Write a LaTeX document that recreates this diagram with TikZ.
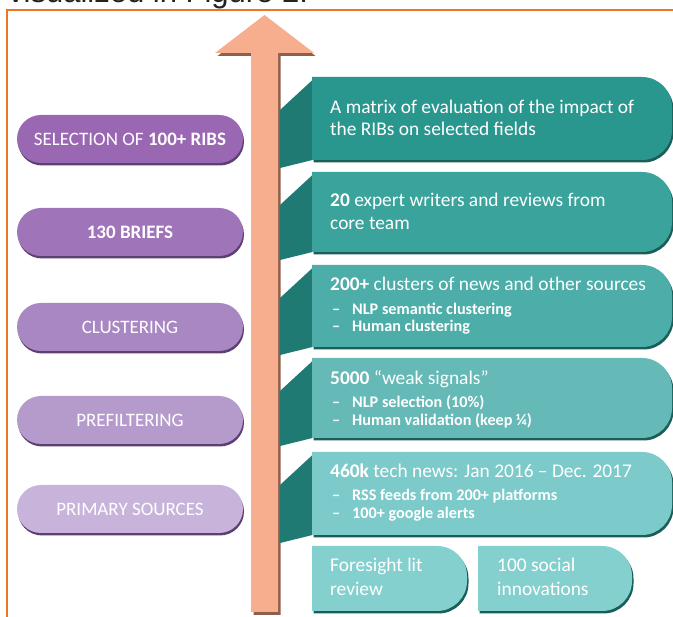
\documentclass[tikz,border=0pt]{standalone}
\usepackage{fontspec}
\setmainfont{Carlito}
\newfontfamily\topfont{Liberation Sans}
\usetikzlibrary{shadows}
\definecolor{frameor}{HTML}{EE7522}
\definecolor{arrowc}{HTML}{F7AE8E}
\definecolor{arrowsh}{HTML}{8E5F4A}
\definecolor{pA}{HTML}{9A68B2}
\definecolor{pB}{HTML}{A074B8}
\definecolor{pC}{HTML}{A987C2}
\definecolor{pD}{HTML}{B59BCC}
\definecolor{pE}{HTML}{C8B4DB}
\definecolor{psh}{HTML}{5E3F72}
\definecolor{tA}{HTML}{2A978F}
\definecolor{tB}{HTML}{3AA39C}
\definecolor{tC}{HTML}{4DADA8}
\definecolor{tD}{HTML}{65BAB7}
\definecolor{tE}{HTML}{7DCACA}
\definecolor{tF}{HTML}{84D0CF}
\definecolor{foldc}{HTML}{1F7A73}
\definecolor{tsh}{HTML}{1A5E58}
\definecolor{toptext}{HTML}{222222}
\newcommand\tealshape[5]{% left, top, right, bottom, colour
  \fill[tsh] (#1+1.5,#2+2.5) [rounded corners=30pt] -- (#3+1.5,#2+2.5) -- (#3+1.5,#4+2.5) [sharp corners] -- (#1+1.5,#4+2.5) -- cycle;
  \fill[#5] (#1,#2) [rounded corners=30pt] -- (#3,#2) -- (#3,#4) [sharp corners] -- (#1,#4) -- cycle;}
\newcommand\tealfold[2]{% top, bottom
  \fill[foldc] (280,#1+33) -- (312.5,#1+3) -- (312.5,#2) -- (280,#2+8) -- cycle;}
\tikzset{
  pill/.style={rectangle, rounded corners=24pt, minimum width=226pt, minimum height=48pt,
    inner sep=0pt, text=white, font=\fontsize{19}{20}\selectfont,
    drop shadow={shadow xshift=1pt, shadow yshift=-2.5pt, fill=psh, opacity=1}},
  head/.style={anchor=base west, inner sep=0pt, text=white, font=\fontsize{19.4}{21}\selectfont},
  bul/.style={anchor=base west, inner sep=0pt, text=white, font=\fontsize{16.2}{17}\selectfont\bfseries},
}
\newcommand\dsh{\makebox[20pt][l]{--}}
\begin{document}
\begin{tikzpicture}[x=1pt,y=-1pt]
\useasboundingbox (0,0) rectangle (673,617);
\fill[white] (0,0) rectangle (673,617);
\begin{scope}
\clip (0,0) rectangle (673,617);
% cut-off caption text at top
\node[anchor=base west, inner sep=0pt, text=toptext, font=\topfont\fontsize{31}{33}\selectfont] (cap) at (8,3) {visualized in Figure 2.};
% frame
\draw[frameor, line width=2.5pt] (7,630) -- (7,10) -- (690,10);
% arrow
\fill[arrowsh] (253.5,615) -- (253.5,56) -- (217.5,56) -- (266.5,18) -- (315.5,56) -- (280.5,56) -- (280.5,615) -- cycle;
\fill[arrowc] (251,612) -- (251,53) -- (215,53) -- (264.5,15) -- (314,53) -- (278,53) -- (278,612) -- cycle;
% teal boxes
\tealfold{77}{160}
\tealshape{312}{77}{672}{160}{tA}
\tealfold{172}{252}
\tealshape{312}{172}{672}{252}{tB}
\tealfold{265}{347}
\tealshape{312}{265}{672}{347}{tC}
\tealfold{358}{438}
\tealshape{312}{358}{672}{438}{tD}
\tealfold{452}{535}
\tealshape{312}{452}{672}{535}{tE}
\tealshape{312}{546}{467}{611}{tF}
\tealshape{478}{546}{632}{611}{tF}
\end{scope}
% purple pills
\node[pill, fill=pA] (sel) at (130,139) {SELECTION OF \textbf{100+ RIBS}};
\node[pill, fill=pB] (briefs) at (130,232) {\textbf{130 BRIEFS}};
\node[pill, fill=pC] (clus) at (130,327) {CLUSTERING};
\node[pill, fill=pD] (pref) at (130,420) {PREFILTERING};
\node[pill, fill=pE] (prim) at (130,509) {PRIMARY SOURCES};
% teal texts
\node[head] (m1a) at (330,114) {A matrix of evaluation of the impact of};
\node[head] (m1b) at (330,136) {the RIBs on selected fields};
\node[head] (m2a) at (330,207) {\textbf{20} expert writers and reviews from};
\node[head] (m2b) at (330,230) {core team};
\node[head] (m3a) at (330,291) {\textbf{200+} clusters of news and other sources};
\node[bul] (m3b) at (332,315) {\dsh NLP semantic clustering};
\node[bul] (m3c) at (332,332) {\dsh Human clustering};
\node[head] (m4a) at (330,385) {\textbf{5000} “weak signals”};
\node[bul] (m4b) at (332,408) {\dsh NLP selection (10\%)};
\node[bul] (m4c) at (332,426) {\dsh Human validation (keep ¼)};
\node[head] (m5a) at (330,478) {\textbf{460k} tech news: Jan 2016 – Dec. 2017};
\node[bul] (m5b) at (332,501) {\dsh RSS feeds from 200+ platforms};
\node[bul] (m5c) at (332,519) {\dsh 100+ google alerts};
\node[head] (f1) at (330,572) {Foresight lit};
\node[head] (f2) at (330,596) {review};
\node[head] (s1) at (497,572) {100 social};
\node[head] (s2) at (497,596) {innovations};
\end{tikzpicture}
\end{document}
